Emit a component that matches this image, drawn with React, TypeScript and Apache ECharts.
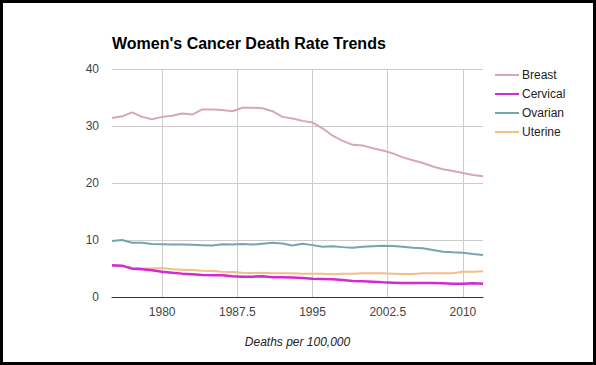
import React, { useEffect, useRef } from "react";
import * as echarts from "echarts";

const years: number[] = [
  1975, 1976, 1977, 1978, 1979, 1980, 1981, 1982, 1983, 1984, 1985, 1986, 1987,
  1988, 1989, 1990, 1991, 1992, 1993, 1994, 1995, 1996, 1997, 1998, 1999, 2000,
  2001, 2002, 2003, 2004, 2005, 2006, 2007, 2008, 2009, 2010, 2011, 2012,
];

const breast: number[] = [
  31.4, 31.7, 32.4, 31.6, 31.2, 31.6, 31.8, 32.2, 32.0, 32.9, 32.9, 32.8, 32.6,
  33.2, 33.2, 33.1, 32.6, 31.6, 31.3, 30.9, 30.6, 29.6, 28.3, 27.4, 26.7, 26.6,
  26.1, 25.7, 25.2, 24.5, 24.0, 23.5, 22.9, 22.4, 22.1, 21.75, 21.4, 21.2,
];

const cervical: number[] = [
  5.56, 5.5, 4.97, 4.85, 4.68, 4.44, 4.27, 4.1, 3.98, 3.86, 3.8, 3.8, 3.63,
  3.57, 3.57, 3.63, 3.45, 3.45, 3.4, 3.33, 3.22, 3.16, 3.1, 2.98, 2.8, 2.75,
  2.69, 2.57, 2.51, 2.45, 2.45, 2.45, 2.45, 2.4, 2.33, 2.33, 2.4, 2.33,
];

const ovarian: number[] = [
  9.82, 10.0, 9.53, 9.53, 9.3, 9.25, 9.2, 9.2, 9.15, 9.1, 9.05, 9.25, 9.2,
  9.3, 9.2, 9.35, 9.5, 9.4, 9.05, 9.35, 9.1, 8.8, 8.9, 8.75, 8.65, 8.8,
  8.9, 9.0, 8.95, 8.8, 8.65, 8.54, 8.25, 7.95, 7.85, 7.78, 7.55, 7.37,
];

const uterine: number[] = [
  5.44, 5.4, 5.15, 5.03, 5.0, 5.09, 4.85, 4.8, 4.75, 4.6, 4.56, 4.44, 4.39,
  4.27, 4.21, 4.27, 4.15, 4.15, 4.15, 4.1, 4.1, 4.1, 3.98, 4.1, 4.1, 4.15,
  4.15, 4.15, 4.1, 4.04, 4.04, 4.15, 4.15, 4.15, 4.15, 4.44, 4.44, 4.5,
];

const xTicks: number[] = [1980, 1987.5, 1995, 2002.5, 2010];

const seriesNames: string[] = ["Breast", "Cervical", "Ovarian", "Uterine"];
const seriesColors: string[] = ["#d5a6bd", "#d22ad2", "#76a5af", "#f2be8a"];
const seriesWidths: number[] = [2, 2.5, 2, 2];

export default function App() {
  const ref = useRef<HTMLDivElement>(null);

  useEffect(() => {
    if (!ref.current) return;
    const chart = echarts.init(ref.current, null, { renderer: "svg" });
    const all = [breast, cervical, ovarian, uterine];
    const font = "Arial, 'Liberation Sans', sans-serif";

    chart.setOption({
      animation: false,
      backgroundColor: "#ffffff",
      textStyle: { fontFamily: font },
      title: {
        text: "Women's Cancer Death Rate Trends",
        left: 107,
        top: 30,
        textStyle: { fontSize: 16, fontWeight: "bold", color: "#000", fontFamily: font },
      },
      legend: {
        orient: "vertical",
        left: 490,
        top: 64,
        itemWidth: 24,
        itemHeight: 2,
        itemGap: 7,
        icon: "rect",
        data: seriesNames,
        textStyle: { fontSize: 12, color: "#222", fontFamily: font, padding: [0, 0, 0, -2] },
      },
      grid: { left: 112, right: 113, top: 69, bottom: 68, containLabel: false },
      xAxis: {
        type: "value",
        min: 1975,
        max: 2012,
        name: "Deaths per 100,000",
        nameLocation: "middle",
        nameGap: 39,
        nameTextStyle: { fontSize: 12, fontStyle: "italic", color: "#222", fontFamily: font },
        axisLine: { show: true, lineStyle: { color: "#333", width: 1 } },
        axisTick: { show: false, customValues: xTicks },
        axisLabel: {
          customValues: xTicks,
          fontSize: 12,
          color: "#444",
          margin: 9,
          formatter: (v: number) => String(v),
        },
        splitLine: { show: true, lineStyle: { color: "#cccccc", width: 1 } },
      },
      yAxis: {
        type: "value",
        min: 0,
        max: 40,
        interval: 10,
        axisLine: { show: false },
        axisTick: { show: false },
        axisLabel: { fontSize: 12, color: "#444", margin: 13 },
        splitLine: { show: true, lineStyle: { color: "#cccccc", width: 1 } },
      },
      series: seriesNames.map((name, i) => ({
        name,
        type: "line",
        showSymbol: false,
        symbol: "none",
        smooth: false,
        color: seriesColors[i],
        lineStyle: { width: seriesWidths[i], color: seriesColors[i] },
        data: years.map((y, j) => [y, all[i][j]]),
        z: 4 - i,
      })),
      graphic: [
        {
          type: "rect",
          shape: { x: 1.5, y: 1.5, width: 593, height: 362 },
          style: { fill: "none", stroke: "#000", lineWidth: 3 },
          z: 100,
        },
      ],
    });

    return () => chart.dispose();
  }, []);

  return (
    <div
      ref={ref}
      style={{ position: "fixed", left: 0, top: 0, width: 596, height: 365 }}
    />
  );
}
